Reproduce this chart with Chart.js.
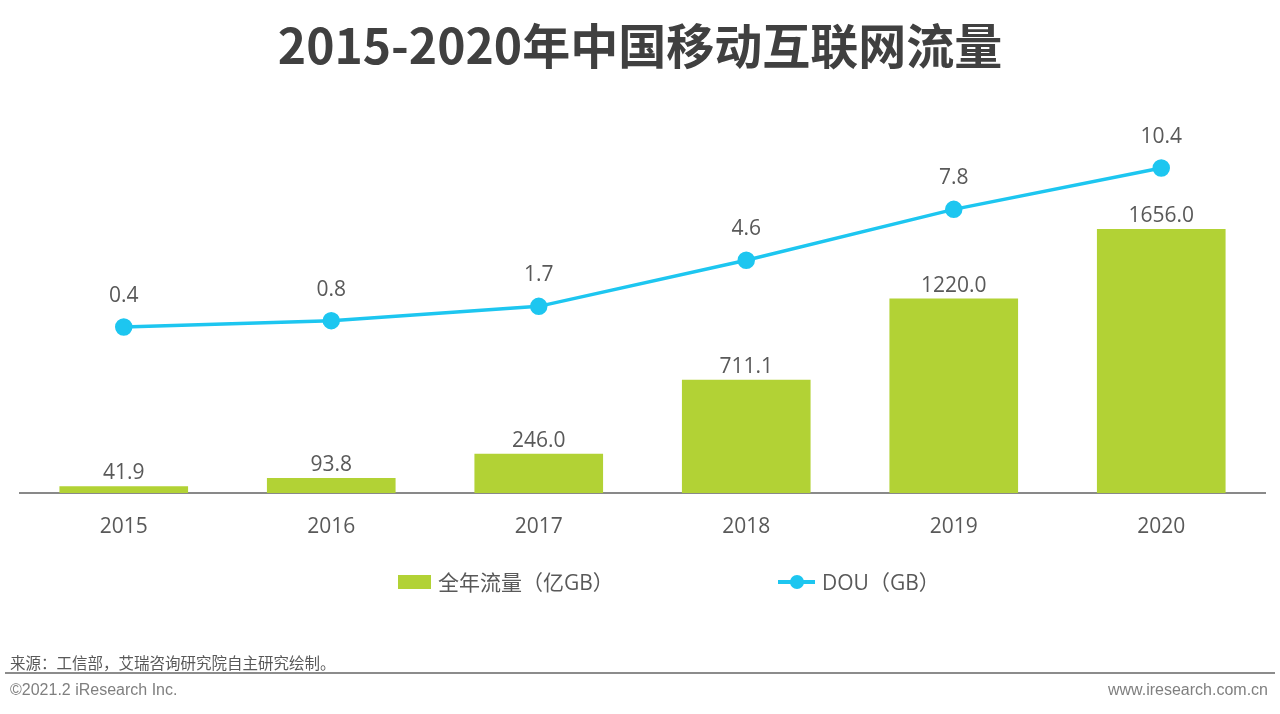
<!DOCTYPE html>
<html><head><meta charset="utf-8">
<script src="https://cdn.jsdelivr.net/npm/chart.js@4"></script>
<style>
html,body{margin:0;padding:0;background:#fff;}
#wrap{position:relative;width:1280px;height:714px;overflow:hidden;}
#title{position:absolute;left:0;top:13px;width:1280px;text-align:center;font:bold 48px "Noto Sans CJK SC","Noto Sans",sans-serif;color:#404040;line-height:60px;}
#cv{position:absolute;left:0;top:0;}
.leg{position:absolute;top:568px;font:21px "Open Sans","Noto Sans CJK SC",sans-serif;color:#595959;line-height:28px;white-space:nowrap;}
.box{position:absolute;left:398px;top:575px;width:33px;height:14px;background:#B2D235;}
.lline{position:absolute;left:778px;top:580px;width:37px;height:4px;background:#1DC6F0;}
.ldot{position:absolute;left:790px;top:575px;width:14px;height:14px;border-radius:50%;background:#1DC6F0;}
#src{position:absolute;left:10px;top:651px;font:15.5px "Noto Sans CJK SC",sans-serif;color:#595959;line-height:22px;}
#rule{position:absolute;left:5px;top:672px;width:1270px;height:2px;background:#8c8c8c;}
#copy{position:absolute;left:10px;top:680px;font:16px "Liberation Sans Narrow",Arial,sans-serif;color:#7f7f7f;line-height:20px;}
#site{position:absolute;right:12px;top:680px;font:16px "Liberation Sans Narrow",Arial,sans-serif;color:#7f7f7f;line-height:20px;}
</style></head>
<body><div id="wrap">
<canvas id="cv" width="1280" height="714"></canvas>
<div id="title">2015-2020年中国移动互联网流量</div>
<div class="box"></div><div class="leg" style="left:438px">全年流量（亿GB）</div>
<div class="lline"></div><div class="ldot"></div><div class="leg" style="left:822px">DOU（GB）</div>
<div id="src">来源：工信部，艾瑞咨询研究院自主研究绘制。</div>
<div id="rule"></div>
<div id="copy">©2021.2 iResearch Inc.</div>
<div id="site">www.iresearch.com.cn</div>
</div>
<script>
const years = ['2015','2016','2017','2018','2019','2020'];
const traffic = [41.9, 93.8, 246.0, 711.1, 1220.0, 1656.0];
const dou = [0.4, 0.8, 1.7, 4.6, 7.8, 10.4];

const labelPlugin = {
  id:'labels',
  afterDatasetsDraw(chart){
    const ctx = chart.ctx;
    ctx.save();
    ctx.font = '21px "Open Sans", sans-serif';
    ctx.fillStyle = '#595959';
    ctx.textAlign = 'center';
    ctx.textBaseline = 'alphabetic';
    chart.getDatasetMeta(1).data.forEach((el,i)=>{
      ctx.fillText(traffic[i].toFixed(1), el.x, el.y - 7);
    });
    chart.getDatasetMeta(0).data.forEach((el,i)=>{
      ctx.fillText(dou[i].toFixed(1), el.x, el.y - 25);
    });
    ctx.restore();
  }
};

new Chart(document.getElementById('cv'), {
  data:{
    labels: years,
    datasets:[
      {type:'line', label:'DOU（GB）', data:dou, yAxisID:'y1', borderColor:'#1DC6F0', backgroundColor:'#1DC6F0',
       borderWidth:3.5, pointRadius:7, pointHoverRadius:7, tension:0, order:0},
      {type:'bar', label:'全年流量（亿GB）', data:traffic, yAxisID:'y', backgroundColor:'#B2D235',
       categoryPercentage:1, barPercentage:0.62, order:1}
    ]
  },
  options:{
    responsive:false, animation:false,
    layout:{padding:{top:120,left:20,right:15,bottom:178}},
    plugins:{legend:{display:false}, tooltip:{enabled:false}},
    scales:{
      x:{grid:{display:false, drawTicks:false}, border:{display:true,color:'#898989',width:2},
         ticks:{color:'#595959', font:{family:'"Open Sans", sans-serif', size:21}, padding:21},
         afterFit(s){ s.height = 43; }},
      y:{display:false, min:0, max:2340},
      y1:{display:false, min:-10.04, max:13.42}
    }
  },
  plugins:[labelPlugin]
});
</script>
</body></html>
